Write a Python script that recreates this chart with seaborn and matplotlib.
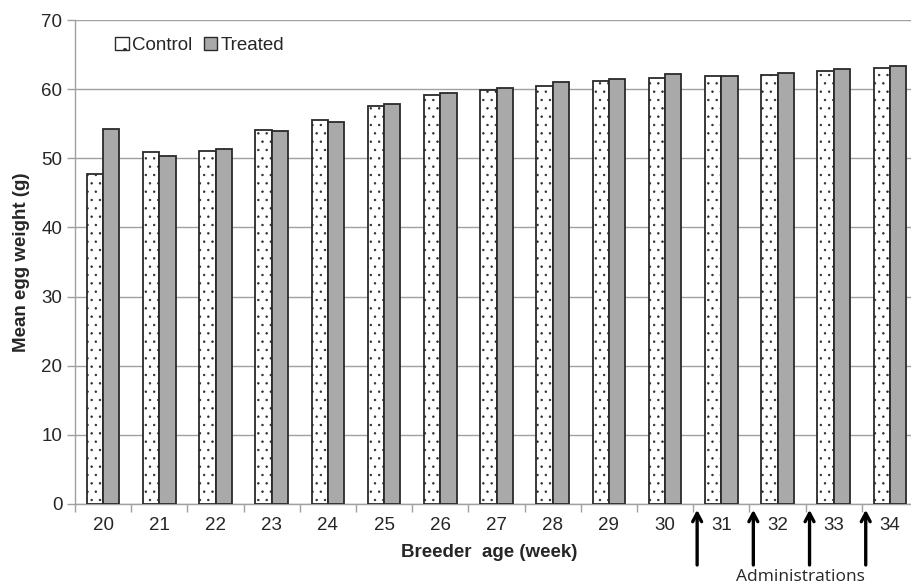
import numpy as np
import pandas as pd
import matplotlib
matplotlib.use('Agg')
import matplotlib.pyplot as plt
import seaborn as sns

# breeder age (weeks) and mean egg weight per group
weeks = [20, 21, 22, 23, 24, 25, 26, 27, 28, 29, 30, 31, 32, 33, 34]
control = [47.7, 50.9, 51.1, 54.1, 55.5, 57.5, 59.2, 59.9, 60.5, 61.2, 61.6, 61.9, 62.1, 62.6, 63.1]
treated = [54.3, 50.3, 51.4, 53.9, 55.2, 57.8, 59.5, 60.1, 61.1, 61.5, 62.2, 61.9, 62.3, 62.9, 63.4]
groups = ['Control', 'Treated']
admin_weeks = [31, 32, 33, 34]
y_ticks = [0, 10, 20, 30, 40, 50, 60, 70]

df = pd.DataFrame({
    'week': [str(w) for w in weeks] * 2,
    'weight': control + treated,
    'group': [groups[0]] * len(weeks) + [groups[1]] * len(weeks),
})

sns.set_style('white')
plt.rcParams['font.family'] = ['Liberation Sans', 'DejaVu Sans']
plt.rcParams['hatch.color'] = '#6a6a6a'
plt.rcParams['hatch.linewidth'] = 0.5

FS = 13.5
GRID = '#a0a0a0'

fig = plt.figure(figsize=(9.11, 5.86), dpi=100)
# plot area runs past the right edge of the image, as in the original
ax = fig.add_axes([75 / 911, 1 - 504 / 586, 843 / 911, 484 / 586])

sns.barplot(data=df, x='week', y='weight', hue='group', hue_order=groups,
            palette=['white', '#a9a9a9'], edgecolor='#2a2a2a', linewidth=1.3,
            width=0.58, gap=0, errorbar=None, ax=ax, zorder=3)

# dotted fill for the control bars
for bar in ax.containers[0]:
    bar.set_hatch('..')

ax.set_ylim(0, 70)
ax.set_xlim(-0.5, len(weeks) - 0.5)
ax.set_yticks(y_ticks)
ax.yaxis.grid(True, color=GRID, linewidth=1.0, zorder=0)
ax.set_axisbelow(True)

for side in ['top', 'right']:
    ax.spines[side].set_visible(False)
for side in ['left', 'bottom']:
    ax.spines[side].set_color(GRID)
    ax.spines[side].set_linewidth(1.0)

# labels centred, tick marks between categories
ax.set_xticks(range(len(weeks)))
ax.set_xticklabels([str(w) for w in weeks])
ax.set_xticks(np.arange(-0.5, len(weeks), 1.0), minor=True)
ax.tick_params(axis='x', which='major', bottom=False, length=0, labelsize=FS, pad=9)
ax.tick_params(axis='x', which='minor', bottom=True, length=6, color=GRID, width=1,
               direction='out')
ax.tick_params(axis='y', which='major', left=True, length=6, color=GRID, width=1,
               labelsize=FS, pad=3, direction='out')

ax.set_xlabel('Breeder  age (week)', fontsize=FS, fontweight='bold', labelpad=5)
ax.xaxis.set_label_coords(0.491, -0.082)
ax.set_ylabel('Mean egg weight (g)', fontsize=FS, fontweight='bold', labelpad=8)

# administration arrows below the axis
for w in admin_weeks:
    xi = weeks.index(w) - 0.43
    ax.annotate('', xy=(xi, -0.012), xytext=(xi, -0.126),
                xycoords=('data', 'axes fraction'), textcoords=('data', 'axes fraction'),
                arrowprops=dict(arrowstyle='->,head_length=0.6,head_width=0.32',
                                color='black', lw=2.4, shrinkA=0, shrinkB=0),
                annotation_clip=False)
ax.text(weeks.index(33) - 0.6, -0.151, 'Administrations', transform=ax.get_xaxis_transform(),
        ha='center', va='center', fontsize=12.5, family=['Open Sans', 'DejaVu Sans'])

leg = ax.legend(loc='center left', bbox_to_anchor=(0.039, 0.948), ncol=2, frameon=False,
                fontsize=FS, handlelength=0.7, handleheight=0.7, handletextpad=0.2,
                columnspacing=0.6, borderaxespad=0)
for h in leg.legend_handles:
    h.set_edgecolor('#2a2a2a')
    h.set_linewidth(1.0)
leg.legend_handles[0].set_hatch('.')

fig.savefig('out.png', dpi=100)
